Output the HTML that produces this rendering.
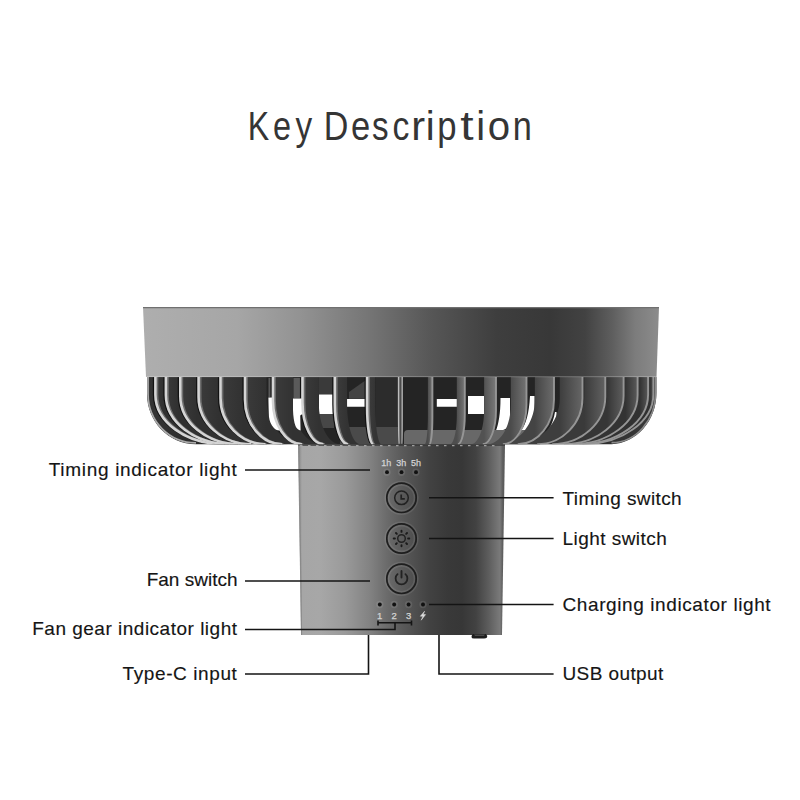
<!DOCTYPE html>
<html><head><meta charset="utf-8">
<style>
html,body{margin:0;padding:0;background:#fff;}
body{width:800px;height:800px;position:relative;overflow:hidden;font-family:"Liberation Sans",sans-serif;}
.lb{position:absolute;font-size:19px;line-height:19px;color:#151515;white-space:nowrap;-webkit-text-stroke:0.15px #151515;}
.lb.r{text-align:right;}
svg{position:absolute;left:0;top:0;}
</style></head><body>
<svg width="800" height="800" viewBox="0 0 800 800">
<defs>
<linearGradient id="band" x1="143" y1="0" x2="659" y2="0" gradientUnits="userSpaceOnUse">
<stop offset="0.0000" stop-color="#aeaeae"/>
<stop offset="0.1822" stop-color="#a6a6a6"/>
<stop offset="0.3081" stop-color="#929292"/>
<stop offset="0.4341" stop-color="#767676"/>
<stop offset="0.5601" stop-color="#565656"/>
<stop offset="0.6860" stop-color="#3e3e3e"/>
<stop offset="0.7888" stop-color="#383838"/>
<stop offset="0.8566" stop-color="#424242"/>
<stop offset="0.9089" stop-color="#5e5e5e"/>
<stop offset="0.9535" stop-color="#7c7c7c"/>
<stop offset="1.0000" stop-color="#8c8c8c"/>
</linearGradient>
<linearGradient id="col" x1="298" y1="0" x2="505" y2="0" gradientUnits="userSpaceOnUse">
<stop offset="0.0000" stop-color="#828282"/>
<stop offset="0.0193" stop-color="#a6a6a6"/>
<stop offset="0.1063" stop-color="#a7a7a7"/>
<stop offset="0.2271" stop-color="#9a9a9a"/>
<stop offset="0.3478" stop-color="#828282"/>
<stop offset="0.4251" stop-color="#6c6c6c"/>
<stop offset="0.5024" stop-color="#5a5a5a"/>
<stop offset="0.6329" stop-color="#424242"/>
<stop offset="0.7246" stop-color="#393939"/>
<stop offset="0.7923" stop-color="#373737"/>
<stop offset="0.8599" stop-color="#424242"/>
<stop offset="0.9227" stop-color="#5e5e5e"/>
<stop offset="0.9758" stop-color="#7a7a7a"/>
<stop offset="0.9879" stop-color="#606060"/>
<stop offset="1.0000" stop-color="#545454"/>
</linearGradient>
<linearGradient id="rb1" x1="155.4" y1="0" x2="164.1" y2="0" gradientUnits="userSpaceOnUse"><stop offset="0" stop-color="#3a3a3a"/><stop offset="1" stop-color="#303030"/></linearGradient>
<linearGradient id="rb2" x1="165.9" y1="0" x2="178.5" y2="0" gradientUnits="userSpaceOnUse"><stop offset="0" stop-color="#3a3a3a"/><stop offset="1" stop-color="#303030"/></linearGradient>
<linearGradient id="rb3" x1="180.3" y1="0" x2="196.8" y2="0" gradientUnits="userSpaceOnUse"><stop offset="0" stop-color="#3a3a3a"/><stop offset="1" stop-color="#303030"/></linearGradient>
<linearGradient id="rb4" x1="198.6" y1="0" x2="218.7" y2="0" gradientUnits="userSpaceOnUse"><stop offset="0" stop-color="#3b3b3b"/><stop offset="1" stop-color="#313131"/></linearGradient>
<linearGradient id="rb5" x1="220.5" y1="0" x2="243.2" y2="0" gradientUnits="userSpaceOnUse"><stop offset="0" stop-color="#3b3b3b"/><stop offset="1" stop-color="#313131"/></linearGradient>
<linearGradient id="rb6" x1="245.0" y1="0" x2="266.5" y2="0" gradientUnits="userSpaceOnUse"><stop offset="0" stop-color="#3b3b3b"/><stop offset="1" stop-color="#313131"/></linearGradient>
<linearGradient id="rb7" x1="273.0" y1="0" x2="293.0" y2="0" gradientUnits="userSpaceOnUse"><stop offset="0" stop-color="#3c3c3c"/><stop offset="1" stop-color="#323232"/></linearGradient>
<linearGradient id="rb8" x1="302.5" y1="0" x2="318.8" y2="0" gradientUnits="userSpaceOnUse"><stop offset="0" stop-color="#3c3c3c"/><stop offset="1" stop-color="#323232"/></linearGradient>
<linearGradient id="rb9" x1="334.8" y1="0" x2="347.1" y2="0" gradientUnits="userSpaceOnUse"><stop offset="0" stop-color="#3d3d3d"/><stop offset="1" stop-color="#333333"/></linearGradient>
<linearGradient id="rb10" x1="367.1" y1="0" x2="375.3" y2="0" gradientUnits="userSpaceOnUse"><stop offset="0" stop-color="#3e3e3e"/><stop offset="1" stop-color="#343434"/></linearGradient>
<linearGradient id="rb12" x1="432.4" y1="0" x2="427.9" y2="0" gradientUnits="userSpaceOnUse"><stop offset="0" stop-color="#737373"/><stop offset="1" stop-color="#4b4b4b"/></linearGradient>
<linearGradient id="rb13" x1="464.8" y1="0" x2="456.8" y2="0" gradientUnits="userSpaceOnUse"><stop offset="0" stop-color="#767676"/><stop offset="1" stop-color="#4e4e4e"/></linearGradient>
<linearGradient id="rb14" x1="496.0" y1="0" x2="484.1" y2="0" gradientUnits="userSpaceOnUse"><stop offset="0" stop-color="#7a7a7a"/><stop offset="1" stop-color="#525252"/></linearGradient>
<linearGradient id="rb15" x1="526.5" y1="0" x2="510.8" y2="0" gradientUnits="userSpaceOnUse"><stop offset="0" stop-color="#737373"/><stop offset="1" stop-color="#4b4b4b"/></linearGradient>
<linearGradient id="rb16" x1="554.0" y1="0" x2="534.9" y2="0" gradientUnits="userSpaceOnUse"><stop offset="0" stop-color="#6c6c6c"/><stop offset="1" stop-color="#444444"/></linearGradient>
<linearGradient id="rb17" x1="582.5" y1="0" x2="559.8" y2="0" gradientUnits="userSpaceOnUse"><stop offset="0" stop-color="#666666"/><stop offset="1" stop-color="#3e3e3e"/></linearGradient>
<linearGradient id="rb18" x1="605.3" y1="0" x2="584.3" y2="0" gradientUnits="userSpaceOnUse"><stop offset="0" stop-color="#626262"/><stop offset="1" stop-color="#3a3a3a"/></linearGradient>
<linearGradient id="rb19" x1="623.6" y1="0" x2="607.1" y2="0" gradientUnits="userSpaceOnUse"><stop offset="0" stop-color="#5e5e5e"/><stop offset="1" stop-color="#363636"/></linearGradient>
<linearGradient id="rb20" x1="637.6" y1="0" x2="625.4" y2="0" gradientUnits="userSpaceOnUse"><stop offset="0" stop-color="#5b5b5b"/><stop offset="1" stop-color="#333333"/></linearGradient>
<linearGradient id="rb21" x1="648.1" y1="0" x2="639.4" y2="0" gradientUnits="userSpaceOnUse"><stop offset="0" stop-color="#595959"/><stop offset="1" stop-color="#313131"/></linearGradient>
<linearGradient id="rb22" x1="653.4" y1="0" x2="649.9" y2="0" gradientUnits="userSpaceOnUse"><stop offset="0" stop-color="#585858"/><stop offset="1" stop-color="#303030"/></linearGradient>
<clipPath id="bodyclip"><path d="M147,377 L656.5,377 L656.5,393 C656.5,420.6 636.4,443.5 611.5,444.2 L196,444.2 C168,444.2 147,421 147,394 Z"/></clipPath>
</defs>
<!-- title -->
<g font-family="Liberation Sans" font-size="40" fill="#353535">
<text transform="translate(259.70,140.25) scale(0.803,1)" x="-14.75" y="0">K</text>
<text transform="translate(281.88,140.25) scale(0.811,1)" x="-11.10" y="0">e</text>
<text transform="translate(303.75,140.25) scale(0.833,1)" x="-10.00" y="0">y</text>
<text transform="translate(336.60,140.25) scale(0.852,1)" x="-15.15" y="0">D</text>
<text transform="translate(360.60,140.25) scale(0.862,1)" x="-11.10" y="0">e</text>
<text transform="translate(380.25,140.25) scale(0.829,1)" x="-9.85" y="0">s</text>
<text transform="translate(401.25,140.25) scale(0.843,1)" x="-10.30" y="0">c</text>
<text transform="translate(419.30,140.25) scale(1.040,1)" x="-7.70" y="0">r</text>
<text transform="translate(430.25,140.25) scale(1.000,1)" x="-4.45" y="0">i</text>
<text transform="translate(447.30,140.25) scale(0.867,1)" x="-11.60" y="0">p</text>
<text transform="translate(467.00,140.25) scale(1.200,1)" x="-5.70" y="0">t</text>
<text transform="translate(480.75,140.25) scale(1.000,1)" x="-4.45" y="0">i</text>
<text transform="translate(499.00,140.25) scale(1.005,1)" x="-11.15" y="0">o</text>
<text transform="translate(522.25,140.25) scale(0.858,1)" x="-11.15" y="0">n</text>
</g>
<!-- /title -->
<!-- column -->
<path d="M298,444 L505,444 L502,635 L301,635 Z" fill="url(#col)"/>
<path d="M298,445 L505,445" stroke="#3a3a3a" stroke-width="1.3"/>
<path d="M300,445.6 L500,445.6" stroke="#b8b8b8" stroke-width="1.1" stroke-dasharray="2.5 5.5" opacity="0.8"/>
<path d="M299,444 L301.6,635" stroke="#8a8a8a" stroke-width="1.1"/>
<path d="M473,634 L486,634 Q488,636 487,637.5 Q486,638.6 484,638.6 L474,638.6 Q471.5,638.6 471.5,637 Q471.5,635 473,634 Z" fill="#1e1e1e"/>
<path d="M474,634.6 L485,634.6 L484,636 L475,636 Z" fill="#4a4a4a"/>
<!-- grille body -->
<g clip-path="url(#bodyclip)">
<linearGradient id="inner" x1="147" y1="0" x2="657" y2="0" gradientUnits="userSpaceOnUse"><stop offset="0" stop-color="#343434"/><stop offset="0.16" stop-color="#242424"/><stop offset="0.8" stop-color="#242424"/><stop offset="1" stop-color="#3a3a3a"/></linearGradient>
<rect x="140" y="370" width="520" height="80" fill="url(#inner)"/>
<g fill="#5a5a5a">
<path d="M268.5,378 L273,378 L273,397 L268.5,397 Z"/>
<path d="M293.5,378 L302,378 L302,398 L293.5,398 Z"/>
<path d="M318.7,377 L333.8,377 L333.8,394.5 L318.7,394.5 Z" fill="#3a3a3a"/>
<path d="M349,392 L366,380 L366,398.7 L349,398.7 Z" fill="#444"/>
<path d="M382.6,397.3 L397.7,397.3 L397.7,399 L382.6,399 Z" fill="#555"/>
<path d="M376,377 L398,377 L398,427 L376,427 Z" fill="#2c2c2c"/>
<path d="M318.7,414 L334,414 L334,428 L318.7,428 Z" fill="#474747"/>
<path d="M340,427 L400,427 L400,444.5 L340,444.5 Z" fill="#4a4a4a"/>
</g>
<g fill="#fff">
<path d="M319,394.5 L333,394.5 L333,414 L319,414 Z"/>
<path d="M347,399 L365.4,399 L365.4,406.8 L347,406.8 Z"/>
<path d="M436.8,399 L456.9,399 L456.9,406.8 L436.8,406.8 Z"/>
<path d="M468,396 L484,396 L484,414 L468,414 Z"/>
<path d="M500.5,398 L510,398 L510,420 Q509,429 502,430.5 L496,430.5 C498.5,424 500.5,414 500.5,398 Z"/>
<path d="M530,396 L534.5,396 L534.5,419 Q533,429 526,430.5 L521,430.5 C526,424 529,414 530,396 Z"/>
<path d="M555,412 L556.5,412 L556.5,419 Q554,427 549.5,428 C552,424 554,418 555,412 Z"/>
</g>
<path d="M404,434 Q404,430 408,430 L540,430 L540,445 L404,445 Z" fill="#686868"/>
<g>
<path d="M155.40,377.0 L155.40,394.52 C155.40,421.96 185.99,444.2 223.72,444.2 L232.42,444.2 C194.69,444.2 164.10,421.96 164.10,394.52 L164.10,377.0 Z" fill="url(#rb1)"/>
<path d="M165.90,377.0 L165.90,395.09 C165.90,422.21 194.69,444.2 230.21,444.2 L242.81,444.2 C207.29,444.2 178.50,422.21 178.50,395.09 L178.50,377.0 Z" fill="url(#rb2)"/>
<path d="M180.30,377.0 L180.30,395.88 C180.30,422.57 206.70,444.2 239.26,444.2 L255.76,444.2 C223.20,444.2 196.80,422.57 196.80,395.88 L196.80,377.0 Z" fill="url(#rb3)"/>
<path d="M198.60,377.0 L198.60,396.89 C198.60,423.02 222.07,444.2 251.03,444.2 L271.13,444.2 C242.17,444.2 218.70,423.02 218.70,396.89 L218.70,377.0 Z" fill="url(#rb4)"/>
<path d="M220.50,377.0 L220.50,398.09 C220.50,423.56 240.65,444.2 265.51,444.2 L288.21,444.2 C263.35,444.2 243.20,423.56 243.20,398.09 L243.20,377.0 Z" fill="url(#rb5)"/>
<path d="M245.00,377.0 L245.00,399.44 C245.00,424.16 261.66,444.2 282.21,444.2 L303.71,444.2 C283.16,444.2 266.50,424.16 266.50,399.44 L266.50,377.0 Z" fill="url(#rb6)"/>
<path d="M273.00,377.0 L273.00,400.97 C273.00,424.85 285.96,444.2 301.94,444.2 L321.94,444.2 C305.96,444.2 293.00,424.85 293.00,400.97 L293.00,377.0 Z" fill="url(#rb7)"/>
<path d="M302.50,377.0 L302.50,402.59 C302.50,425.57 311.89,444.2 323.48,444.2 L339.80,444.2 C328.21,444.2 318.81,425.57 318.81,402.59 L318.81,377.0 Z" fill="url(#rb8)"/>
<path d="M334.80,377.0 L334.80,404.37 C334.80,426.37 340.69,444.2 347.96,444.2 L360.23,444.2 C352.96,444.2 347.07,426.37 347.07,404.37 L347.07,377.0 Z" fill="url(#rb9)"/>
<path d="M367.10,377.0 L367.10,406.14 C367.10,427.16 369.90,444.2 373.35,444.2 L381.59,444.2 C378.14,444.2 375.34,427.16 375.34,406.14 L375.34,377.0 Z" fill="url(#rb10)"/>
<path d="M398.60,377.0 L398.60,407.87 C398.60,427.93 398.78,444.2 399.01,444.2 L402.61,444.2 C402.38,444.2 402.20,427.93 402.20,407.87 L402.20,377.0 Z" fill="#4a4a4a"/>
<path d="M432.40,377.0 L432.40,416.18 C432.40,431.65 430.98,444.2 429.23,444.2 L424.73,444.2 C426.48,444.2 427.90,431.65 427.90,416.18 L427.90,377.0 Z" fill="url(#rb12)"/>
<path d="M464.80,377.0 L464.80,414.40 C464.80,430.86 461.69,444.2 457.86,444.2 L449.89,444.2 C453.72,444.2 456.82,430.86 456.82,414.40 L456.82,377.0 Z" fill="url(#rb13)"/>
<path d="M496.00,377.0 L496.00,410.29 C496.00,429.02 490.07,444.2 482.76,444.2 L470.89,444.2 C478.20,444.2 484.12,429.02 484.12,410.29 L484.12,377.0 Z" fill="url(#rb14)"/>
<path d="M526.50,377.0 L526.50,404.67 C526.50,426.50 515.90,444.2 502.83,444.2 L487.14,444.2 C500.22,444.2 510.81,426.50 510.81,404.67 L510.81,377.0 Z" fill="url(#rb15)"/>
<path d="M554.00,377.0 L554.00,399.60 C554.00,424.23 537.75,444.2 517.71,444.2 L498.59,444.2 C518.63,444.2 534.88,424.23 534.88,399.60 L534.88,377.0 Z" fill="url(#rb16)"/>
<path d="M582.50,377.0 L582.50,398.04 C582.50,423.53 562.20,444.2 537.16,444.2 L514.47,444.2 C539.51,444.2 559.81,423.53 559.81,398.04 L559.81,377.0 Z" fill="url(#rb17)"/>
<path d="M605.30,377.0 L605.30,396.78 C605.30,422.97 581.53,444.2 552.20,444.2 L531.20,444.2 C560.53,444.2 584.30,422.97 584.30,396.78 L584.30,377.0 Z" fill="url(#rb18)"/>
<path d="M623.60,377.0 L623.60,395.78 C623.60,422.52 596.89,444.2 563.94,444.2 L547.44,444.2 C580.39,444.2 607.10,422.52 607.10,395.78 L607.10,377.0 Z" fill="url(#rb19)"/>
<path d="M637.60,377.0 L637.60,395.01 C637.60,422.18 608.55,444.2 572.72,444.2 L560.52,444.2 C596.35,444.2 625.40,422.18 625.40,395.01 L625.40,377.0 Z" fill="url(#rb20)"/>
<path d="M648.10,377.0 L648.10,394.43 C648.10,421.92 617.25,444.2 579.20,444.2 L570.50,444.2 C608.55,444.2 639.40,421.92 639.40,394.43 L639.40,377.0 Z" fill="url(#rb21)"/>
<path d="M653.40,377.0 L653.40,394.14 C653.40,421.79 621.62,444.2 582.42,444.2 L578.92,444.2 C618.12,444.2 649.90,421.79 649.90,394.14 L649.90,377.0 Z" fill="url(#rb22)"/>
</g>

<g fill="none" stroke="#121212" stroke-width="1.8">
<path d="M153.50,377.0 L153.50,394.41 C153.50,421.91 184.42,444.2 222.56,444.2" stroke-width="1.3"/>
<path d="M164.00,377.0 L164.00,394.99 C164.00,422.17 193.11,444.2 229.03,444.2" stroke-width="1.3"/>
<path d="M178.40,377.0 L178.40,395.78 C178.40,422.52 205.11,444.2 238.06,444.2" stroke-width="1.3"/>
<path d="M196.70,377.0 L196.70,396.78 C196.70,422.97 220.47,444.2 249.80,444.2" stroke-width="1.3"/>
<path d="M218.60,377.0 L218.60,397.99 C218.60,423.51 239.03,444.2 264.24,444.2" stroke-width="1.3"/>
<path d="M243.10,377.0 L243.10,399.33 C243.10,424.11 260.02,444.2 280.89,444.2" stroke-width="1.3"/>
<path d="M271.10,377.0 L271.10,400.87 C271.10,424.80 284.30,444.2 300.58,444.2" stroke-width="1.3"/>
<path d="M300.60,377.0 L300.60,402.49 C300.60,425.53 310.21,444.2 322.07,444.2" stroke-width="1.3"/>
<path d="M332.90,377.0 L332.90,404.26 C332.90,426.32 338.98,444.2 346.49,444.2" stroke-width="1.3"/>
<path d="M365.20,377.0 L365.20,406.03 C365.20,427.11 368.17,444.2 371.83,444.2" stroke-width="1.3"/>
</g>
<g fill="#fff">
<path d="M246.6,413 L248.6,412.5 C249.5,418 251.5,423.5 256,428.3 L253.6,429 C250,425.5 247.5,420 246.6,413 Z"/>
<path d="M268.4,397.5 L273.1,397.5 C273.6,405 274.4,411 275,416 C276,420 277.5,425 280,430.2 L279.4,430.6 C277,430.4 275,429.3 273.5,427.5 C271,425 269.5,421 269,417 C268.7,412 268.5,405 268.4,397.5 Z"/>
<path d="M293,398.5 L302.5,398.5 L302.5,414 L300.2,415.5 L300.6,430.5 C298.5,430 296.5,428.5 295.5,426 C294,422 293.2,416 293,410 Z"/>
</g>
<g fill="none" stroke-width="2.4">
<path d="M157.30,377.0 L157.30,394.62 C157.30,422.00 187.56,444.2 224.89,444.2" stroke="#6e6e6e" stroke-width="2"/>
<path d="M155.40,377.0 L155.40,394.52 C155.40,421.96 185.99,444.2 223.72,444.2" stroke="#d4d4d4" stroke-width="2.6"/>
<path d="M167.80,377.0 L167.80,395.20 C167.80,422.26 196.27,444.2 231.39,444.2" stroke="#6e6e6e" stroke-width="2"/>
<path d="M165.90,377.0 L165.90,395.09 C165.90,422.21 194.69,444.2 230.21,444.2" stroke="#d4d4d4" stroke-width="2.6"/>
<path d="M182.20,377.0 L182.20,395.99 C182.20,422.62 208.29,444.2 240.47,444.2" stroke="#6e6e6e" stroke-width="2"/>
<path d="M180.30,377.0 L180.30,395.88 C180.30,422.57 206.70,444.2 239.26,444.2" stroke="#d4d4d4" stroke-width="2.6"/>
<path d="M200.50,377.0 L200.50,396.99 C200.50,423.07 223.68,444.2 252.27,444.2" stroke="#6e6e6e" stroke-width="2"/>
<path d="M198.60,377.0 L198.60,396.89 C198.60,423.02 222.07,444.2 251.03,444.2" stroke="#d4d4d4" stroke-width="2.6"/>
<path d="M222.40,377.0 L222.40,398.19 C222.40,423.60 242.27,444.2 266.78,444.2" stroke="#6e6e6e" stroke-width="2"/>
<path d="M220.50,377.0 L220.50,398.09 C220.50,423.56 240.65,444.2 265.51,444.2" stroke="#d4d4d4" stroke-width="2.6"/>
<path d="M246.90,377.0 L246.90,399.54 C246.90,424.21 263.30,444.2 283.52,444.2" stroke="#6e6e6e" stroke-width="2"/>
<path d="M245.00,377.0 L245.00,399.44 C245.00,424.16 261.66,444.2 282.21,444.2" stroke="#d4d4d4" stroke-width="2.6"/>
<path d="M274.90,377.0 L274.90,401.08 C274.90,424.89 287.62,444.2 303.31,444.2" stroke="#6e6e6e" stroke-width="2"/>
<path d="M273.00,377.0 L273.00,400.97 C273.00,424.85 285.96,444.2 301.94,444.2" stroke="#d4d4d4" stroke-width="2.6"/>
<path d="M304.40,377.0 L304.40,402.70 C304.40,425.62 313.58,444.2 324.90,444.2" stroke="#6e6e6e" stroke-width="2"/>
<path d="M302.50,377.0 L302.50,402.59 C302.50,425.57 311.89,444.2 323.48,444.2" stroke="#d4d4d4" stroke-width="2.6"/>
<path d="M336.70,377.0 L336.70,404.47 C336.70,426.41 342.40,444.2 349.42,444.2" stroke="#6e6e6e" stroke-width="2"/>
<path d="M334.80,377.0 L334.80,404.37 C334.80,426.37 340.69,444.2 347.96,444.2" stroke="#d4d4d4" stroke-width="2.6"/>
<path d="M369.00,377.0 L369.00,406.24 C369.00,427.21 371.63,444.2 374.87,444.2" stroke="#6e6e6e" stroke-width="2"/>
<path d="M367.10,377.0 L367.10,406.14 C367.10,427.16 369.90,444.2 373.35,444.2" stroke="#d4d4d4" stroke-width="2.6"/>
<path d="M398.60,377.0 L398.60,407.87 C398.60,427.93 398.78,444.2 399.01,444.2" stroke="#bdbdbd" stroke-width="1.5"/>
<path d="M402.20,377.0 L402.20,417.83 C402.20,432.40 402.15,444.2 402.09,444.2" stroke="#a8a8a8" stroke-width="1.5"/>
<path d="M432.40,377.0 L432.40,416.18 C432.40,431.65 430.98,444.2 429.23,444.2" stroke="#959595" stroke-width="1.9"/>
<path d="M464.80,377.0 L464.80,414.40 C464.80,430.86 461.69,444.2 457.86,444.2" stroke="#959595" stroke-width="1.9"/>
<path d="M496.00,377.0 L496.00,410.29 C496.00,429.02 490.07,444.2 482.76,444.2" stroke="#959595" stroke-width="1.9"/>
<path d="M526.50,377.0 L526.50,404.67 C526.50,426.50 515.90,444.2 502.83,444.2" stroke="#959595" stroke-width="1.9"/>
<path d="M554.00,377.0 L554.00,399.60 C554.00,424.23 537.75,444.2 517.71,444.2" stroke="#959595" stroke-width="1.9"/>
<path d="M582.50,377.0 L582.50,398.04 C582.50,423.53 562.20,444.2 537.16,444.2" stroke="#959595" stroke-width="1.9"/>
<path d="M605.30,377.0 L605.30,396.78 C605.30,422.97 581.53,444.2 552.20,444.2" stroke="#959595" stroke-width="1.9"/>
<path d="M623.60,377.0 L623.60,395.78 C623.60,422.52 596.89,444.2 563.94,444.2" stroke="#959595" stroke-width="1.9"/>
<path d="M637.60,377.0 L637.60,395.01 C637.60,422.18 608.55,444.2 572.72,444.2" stroke="#959595" stroke-width="1.9"/>
<path d="M648.10,377.0 L648.10,394.43 C648.10,421.92 617.25,444.2 579.20,444.2" stroke="#959595" stroke-width="1.9"/>
<path d="M653.40,377.0 L653.40,394.14 C653.40,421.79 621.62,444.2 582.42,444.2" stroke="#959595" stroke-width="1.9"/>
<path d="M148,377.0 L148,394 C148,421 169,442.8 196,442.8" stroke="#a8a8a8" stroke-width="1.8"/>
<path d="M655.6,377.0 L655.6,393 C655.6,420 636,442.6 611.5,442.6" stroke="#8a8a8a" stroke-width="1.6"/>
</g>
</g>

<!-- top band -->
<path d="M143,307 L659,307 L656.5,377 L146,377 Z" fill="url(#band)"/>
<line x1="143" y1="307.6" x2="659" y2="307.6" stroke="#707070" stroke-width="1.2"/>
<line x1="146.5" y1="376.6" x2="656.5" y2="376.6" stroke="rgba(255,255,255,0.22)" stroke-width="1.4"/>
<!-- buttons -->
<g fill="none" stroke="rgba(255,255,255,0.09)" stroke-width="1.6">
<circle cx="387" cy="472.2" r="2.9"/><circle cx="401.5" cy="472.2" r="2.9"/><circle cx="416" cy="472.2" r="2.9"/>
<circle cx="379.8" cy="604.5" r="2.9"/><circle cx="394.2" cy="604.5" r="2.9"/><circle cx="408.6" cy="604.5" r="2.9"/><circle cx="423" cy="604.5" r="2.9"/>
<circle cx="401.5" cy="497.8" r="16.3"/><circle cx="401.5" cy="538.5" r="16.3"/><circle cx="401.5" cy="578.8" r="16.3"/>
<circle cx="401.5" cy="497.8" r="12.9"/><circle cx="401.5" cy="538.5" r="12.9"/><circle cx="401.5" cy="578.8" r="12.9"/>
</g>
<g fill="#111">
<circle cx="387" cy="472.2" r="1.9"/><circle cx="401.5" cy="472.2" r="1.9"/><circle cx="416" cy="472.2" r="1.9"/>
<circle cx="379.8" cy="604.5" r="1.9"/><circle cx="394.2" cy="604.5" r="1.9"/><circle cx="408.6" cy="604.5" r="1.9"/><circle cx="423" cy="604.5" r="1.9"/>
</g>
<g fill="none" stroke="#1e1e1e" stroke-width="1.7">
<circle cx="401.5" cy="497.8" r="14.7"/>
<circle cx="401.5" cy="538.5" r="14.7"/>
<circle cx="401.5" cy="578.8" r="14.7"/>
</g>
<g fill="none" stroke="#222" stroke-width="1.5" stroke-linecap="round">
<circle cx="401.5" cy="497.8" r="6.8"/>
<path d="M401.2,494.4 L401.2,498.8 L404.8,498.8" stroke-width="1.7" stroke-linecap="butt"/>
<circle cx="401.5" cy="538.5" r="3.8"/>
<path d="M397.55,574.1 A5.9,5.9 0 1 0 405.45,574.1" stroke-width="1.8"/>
<path d="M401.5,571 L401.5,577.6" stroke-width="1.9"/>
</g>
<g stroke="#1a1a1a" stroke-width="1.9" stroke-linecap="round">
<path d="M401.50,531.90 L401.50,530.70"/>
<path d="M406.17,533.83 L407.02,532.98"/>
<path d="M408.10,538.50 L409.30,538.50"/>
<path d="M406.17,543.17 L407.02,544.02"/>
<path d="M401.50,545.10 L401.50,546.30"/>
<path d="M396.83,543.17 L395.98,544.02"/>
<path d="M394.90,538.50 L393.70,538.50"/>
<path d="M396.83,533.83 L395.98,532.98"/>
</g>
<g fill="#d4d4d4" font-family="Liberation Sans" font-size="9" stroke="#d4d4d4" stroke-width="0.25">
<text x="386.3" y="466.4" text-anchor="middle">1h</text>
<text x="401.3" y="466.4" text-anchor="middle">3h</text>
<text x="416" y="466.4" text-anchor="middle">5h</text>
<text x="379.6" y="618.6" text-anchor="middle" font-size="9.5">1</text>
<text x="394.2" y="618.6" text-anchor="middle" font-size="9.5">2</text>
<text x="408.6" y="618.6" text-anchor="middle" font-size="9.5">3</text>
</g>
<path d="M424.6,611.2 L420.3,616.2 L422.9,616.2 L421.2,620.2 L425.6,614.6 L423.2,614.6 L424.6,611.2 Z" fill="#dcdcdc" stroke="#dcdcdc" stroke-width="0.5" stroke-linejoin="round"/>
<!-- leader lines -->
<g fill="none" stroke="#141414" stroke-width="1.6">
<path d="M245,470 L370,470"/>
<path d="M245,581 L370,581"/>
<path d="M245,629.5 L395,629.5 L395,622.8"/>
<path d="M378,622.8 L411.5,622.8 M378,620.5 L378,625.5 M411.5,620.5 L411.5,625.5"/>
<path d="M245,674 L368.5,674 L368.5,635"/>
<path d="M429,497.7 L553.6,497.7"/>
<path d="M429,538.5 L553.6,538.5"/>
<path d="M429,604.5 L553.6,604.5"/>
<path d="M439,635 L439,674 L553.6,674"/>
</g>
</svg>
<div class="lb r" style="right:562.5px;top:460.1px;letter-spacing:0.69px">Timing indicator light</div>
<div class="lb r" style="right:562.5px;top:570.4px;letter-spacing:0.0px">Fan switch</div>
<div class="lb r" style="right:562.5px;top:618.9px;letter-spacing:0.5px">Fan gear indicator light</div>
<div class="lb r" style="right:562.5px;top:663.9px;letter-spacing:0.6px">Type-C input</div>
<div class="lb" style="left:562.5px;top:488.9px;letter-spacing:0.4px">Timing switch</div>
<div class="lb" style="left:562.5px;top:529.4px;letter-spacing:0.45px">Light switch</div>
<div class="lb" style="left:562.5px;top:595.4px;letter-spacing:0.6px">Charging indicator light</div>
<div class="lb" style="left:562.5px;top:664.2px;letter-spacing:0.4px">USB output</div>
</body></html>
